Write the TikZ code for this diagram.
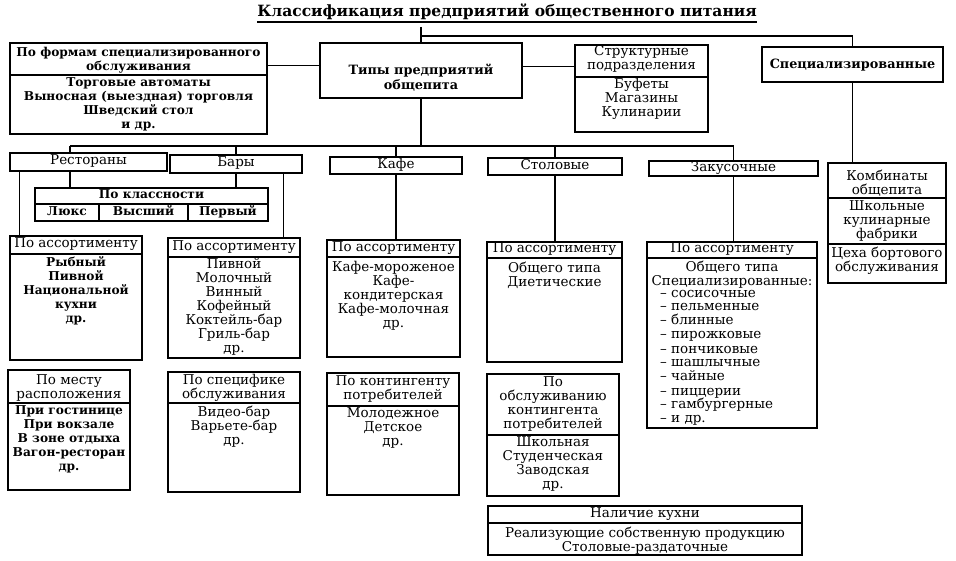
\documentclass[tikz,border=0pt]{standalone}
\usepackage{fontspec}
\setmainfont{DejaVu Serif}
\begin{document}
\begin{tikzpicture}[x=1pt,y=-1pt,
  bx/.style={draw, line width=1.3pt, inner sep=0pt, rectangle},
  tx/.style={align=center, inner sep=0pt, font=\fontsize{13.5}{14}\selectfont,
     execute at begin node=\strut, execute at end node=\strut},
  txb/.style={tx, font=\fontsize{12.2}{14}\selectfont\bfseries},
  txB/.style={tx, font=\fontsize{12.8}{15.5}\selectfont\bfseries},
  txl/.style={tx, align=left},
  dv/.style={line width=1.3pt},
  cn/.style={line width=1.3pt}]
\newcommand\mkbox[5]{\node[bx, minimum width={#4-#2}, minimum height={#5-#3}] (#1) at ({(#2+#4)/2},{(#3+#5)/2}) {};}
\newcommand\dvd[2]{\draw[dv] (#1.west |- 0,#2) -- (#1.east |- 0,#2);}
\useasboundingbox (0,0) rectangle (956,561);
% title
\node[font=\fontsize{15.5}{18}\selectfont\bfseries, inner sep=0pt] (title) at (507,12) {Классификация предприятий общественного питания};
\draw[line width=1.3pt] ([yshift=-2pt]title.south west) -- ([yshift=-2pt]title.south east);
% top row
\mkbox{forms}{10}{43}{267}{134}
\dvd{forms}{75}
\node[txb] (formsh) at (138.5,60.5) {По формам специализированного\\обслуживания};
\node[txb] (formsb) at (138.5,105) {Торговые автоматы\\Выносная (выездная) торговля\\Шведский стол\\и др.};
\mkbox{tipy}{320}{43}{522}{98}
\node[txB] (tipyt) at (421,79) {Типы предприятий\\общепита};
\mkbox{struct}{575}{45}{708}{132}
\dvd{struct}{77}
\node[tx] (structh) at (641.5,60) {Структурные\\подразделения};
\node[tx] (structb) at (641.5,99) {Буфеты\\Магазины\\Кулинарии};
\mkbox{spec}{762}{47}{943}{82}
\node[txB] (spect) at (852.5,65) {Специализированные};
% second row
\mkbox{rest}{10}{153}{167}{171}
\node[tx] (restt) at (88.5,162) {Рестораны};
\mkbox{bary}{170}{155}{302}{173}
\node[tx] (baryt) at (236,164) {Бары};
\mkbox{kafe}{330}{157}{462}{174}
\node[tx] (kafet) at (396,165.5) {Кафе};
\mkbox{stol}{488}{158}{622}{175}
\node[tx] (stolt) at (555,166.5) {Столовые};
\mkbox{zak}{649}{161}{818}{176}
\node[tx] (zakt) at (733.5,168.5) {Закусочные};
% classes
\mkbox{klass}{35}{188}{268}{221}
\dvd{klass}{204}
\draw[dv] (99,204) -- (99,221);
\draw[dv] (188,204) -- (188,221);
\node[txb] (klassh) at (151.5,196) {По классности};
\node[txb] (lux) at (67,212.5) {Люкс};
\node[txb] (vys) at (143.5,212.5) {Высший};
\node[txb] (perv) at (228,212.5) {Первый};
% assortment boxes
\mkbox{rassort}{10}{236}{142}{360}
\dvd{rassort}{254}
\node[tx] (rassorth) at (76,245) {По ассортименту};
\node[txb] (rassortb) at (76,291.5) {Рыбный\\Пивной\\Национальной\\кухни\\др.};
\mkbox{bassort}{168}{238}{300}{358}
\dvd{bassort}{257}
\node[tx] (bassorth) at (234,247.5) {По ассортименту};
\node[tx] (bassortb) at (234,307.5) {Пивной\\Молочный\\Винный\\Кофейный\\Коктейль-бар\\Гриль-бар\\др.};
\mkbox{kassort}{327}{240}{460}{357}
\dvd{kassort}{257}
\node[tx] (kassorth) at (393.5,248.5) {По ассортименту};
\node[tx] (kassortb) at (393.5,296.5) {Кафе-мороженое\\Кафе-\\кондитерская\\Кафе-молочная\\др.};
\mkbox{sassort}{487}{242}{622}{362}
\dvd{sassort}{258}
\node[tx] (sassorth) at (554.5,250) {По ассортименту};
\node[tx] (sassortb) at (554.5,276.5) {Общего типа\\Диетические};
\mkbox{zassort}{647}{242}{817}{428}
\dvd{zassort}{258}
\node[tx] (zassorth) at (732,250) {По ассортименту};
\node[tx] (zassortb) at (732,275) {Общего типа\\Специализированные:};
\node[txl, anchor=west] (zassortl) at (660,358.5) {– сосисочные\\– пельменные\\– блинные\\– пирожковые\\– пончиковые\\– шашлычные\\– чайные\\– пиццерии\\– гамбургерные\\– и др.};
\mkbox{komb}{828}{163}{946}{283}
\dvd{komb}{198}
\dvd{komb}{244}
\node[tx] (kombt) at (887,184.5) {Комбинаты\\общепита};
\node[tx] (shkol) at (887,222) {Школьные\\кулинарные\\фабрики};
\node[tx] (tseha) at (887,261.5) {Цеха бортового\\обслуживания};
% lower boxes
\mkbox{mesto}{8}{370}{130}{490}
\dvd{mesto}{403}
\node[tx] (mestoh) at (69,388.5) {По месту\\расположения};
\node[txb] (mestob) at (69,440.5) {При гостинице\\При вокзале\\В зоне отдыха\\Вагон-ресторан\\др.};
\mkbox{spetsif}{168}{372}{300}{492}
\dvd{spetsif}{403}
\node[tx] (spetsifh) at (234,388.5) {По специфике\\обслуживания};
\node[tx] (spetsifb) at (234,427) {Видео-бар\\Варьете-бар\\др.};
\mkbox{kont}{327}{373}{459}{495}
\dvd{kont}{406}
\node[tx] (konth) at (393,390) {По контингенту\\потребителей};
\node[tx] (kontb) at (393,428.5) {Молодежное\\Детское\\др.};
\mkbox{obsl}{487}{374}{619}{496}
\dvd{obsl}{435}
\node[tx] (obslh) at (553,405) {По\\обслуживанию\\контингента\\потребителей};
\node[tx] (obslb) at (553,464.5) {Школьная\\Студенческая\\Заводская\\др.};
\mkbox{kuh}{488}{506}{802}{555}
\dvd{kuh}{523}
\node[tx] (kuhh) at (645,514.5) {Наличие кухни};
\node[tx] (kuhb) at (645,541.5) {Реализующие собственную продукцию\\Столовые-раздаточные};
% connectors
\coordinate (tj) at (421,27);
\coordinate (tb) at (421,36);
\coordinate (busL) at (70,146);
\coordinate (busR) at (733.5,146);
\draw[cn] (tj) -- (tipy.north);
\draw[cn] (tb) -| (spec.north);
\draw[cn] ([yshift=5pt]tipy.west) -- ([yshift=5pt]tipy.west -| forms.east);
\draw[cn] ([yshift=4pt]tipy.east) -- ([yshift=4pt]tipy.east -| struct.west);
\draw[cn] (tipy.south) -- (tipy.south |- busL);
\draw[cn] (busL) -- (busR);
\draw[cn] (busL) -- (busL |- rest.north);
\draw[cn] (bary.north) -- (bary.north |- busL);
\draw[cn] (kafe.north) -- (kafe.north |- busL);
\draw[cn] (stol.north) -- (stol.north |- busL);
\draw[cn] (busR) -- (zak.north);
\draw[cn] (rest.south -| busL) -- (klass.north -| busL);
\draw[cn] (bary.south) -- (bary.south |- klass.north);
\draw[cn] ([xshift=10pt]rassort.north west) -- ([xshift=10pt]rassort.north west |- rest.south);
\draw[cn] ([xshift=-17pt]bassort.north east) -- ([xshift=-17pt]bassort.north east |- bary.south);
\draw[cn] (kafe.south) -- (kafe.south |- kassort.north);
\draw[cn] (stol.south) -- (stol.south |- sassort.north);
\draw[cn] (zak.south) -- (zak.south |- zassort.north);
\draw[cn] (spec.south) -- (spec.south |- komb.north);
\end{tikzpicture}
\end{document}
